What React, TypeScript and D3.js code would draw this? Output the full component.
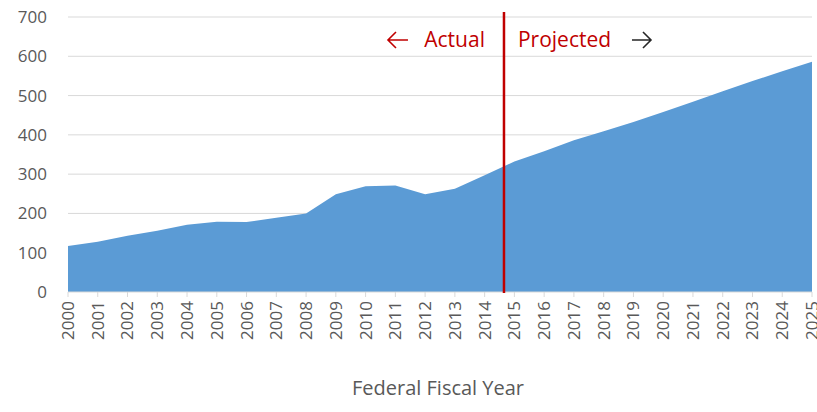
import React from "react";
import * as d3 from "d3";

const years = [2000, 2001, 2002, 2003, 2004, 2005, 2006, 2007, 2008, 2009, 2010, 2011, 2012, 2013, 2014, 2015, 2016, 2017, 2018, 2019, 2020, 2021, 2022, 2023, 2024, 2025];
const values = [117, 128, 143, 156, 171, 179, 178, 189, 200, 249, 269, 271, 249, 263, 297, 332, 358, 386, 409, 433, 458, 484, 511, 537, 562, 586];
const yTicks = [0, 100, 200, 300, 400, 500, 600, 700];
const dividerYear = 2014.65;
const xTitle = "Federal Fiscal Year";
const leftLabel = "Actual";
const rightLabel = "Projected";

const W = 817;
const H = 412;
const m = { left: 68, right: 5, top: 17, bottom: 120 };

export default function App() {
  const x = d3.scaleLinear().domain([2000, 2025]).range([m.left, W - m.right]);
  const y = d3.scaleLinear().domain([0, 700]).range([H - m.bottom, m.top]);
  const area = d3
    .area<number>()
    .x((_, i) => x(years[i]))
    .y0(y(0))
    .y1((d) => y(d));
  const font = "'Open Sans', 'Noto Sans', sans-serif";
  const xd = x(dividerYear);
  const ly = 40;
  const la = { x1: xd - 116, x2: xd - 96 };
  const ra = { x1: xd + 128, x2: xd + 147 };
  return (
    <svg width={W} height={H} style={{ position: "absolute", left: 0, top: 0, background: "#fff" }} fontFamily={font}>
      {yTicks.map((t) => (
        <g key={t}>
          {t > 0 && <line x1={x(2000)} x2={x(2025)} y1={y(t)} y2={y(t)} stroke="#d9d9d9" strokeWidth={1} />}
          <text x={47} y={y(t)} dy="0.35em" textAnchor="end" fontSize={17} fill="#595959">
            {t}
          </text>
        </g>
      ))}
      <path d={area(values) || ""} fill="#5b9bd5" />
      <line x1={x(2000)} x2={x(2025)} y1={y(0)} y2={y(0)} stroke="#d9d9d9" strokeWidth={1} />
      {years.map((yr) => (
        <g key={yr}>
          <line x1={x(yr)} x2={x(yr)} y1={y(0)} y2={y(0) + 5} stroke="#d9d9d9" />
          <text
            transform={`translate(${x(yr)},${y(0) + 9}) rotate(-90)`}
            textAnchor="end"
            dy="0.35em"
            fontSize={17}
            fill="#595959"
          >
            {yr}
          </text>
        </g>
      ))}
      <line x1={xd} x2={xd} y1={12} y2={y(0) + 1} stroke="#c00000" strokeWidth={2.5} />
      <path
        d={`M${la.x2},${ly} L${la.x1},${ly} M${la.x1 + 8},${ly - 8} L${la.x1},${ly} L${la.x1 + 8},${ly + 8}`}
        fill="none"
        stroke="#c00000"
        strokeWidth={1.6}
      />
      <text x={xd - 19} y={ly} dy="0.35em" textAnchor="end" fontSize={21} fill="#c00000">
        {leftLabel}
      </text>
      <text x={xd + 14} y={ly} dy="0.35em" textAnchor="start" fontSize={21} fill="#c00000">
        {rightLabel}
      </text>
      <path
        d={`M${ra.x1},${ly} L${ra.x2},${ly} M${ra.x2 - 8},${ly - 8} L${ra.x2},${ly} L${ra.x2 - 8},${ly + 8}`}
        fill="none"
        stroke="#262626"
        strokeWidth={1.6}
      />
      <text x={438} y={388} dy="0.35em" textAnchor="middle" fontSize={20} fill="#595959">
        {xTitle}
      </text>
    </svg>
  );
}
